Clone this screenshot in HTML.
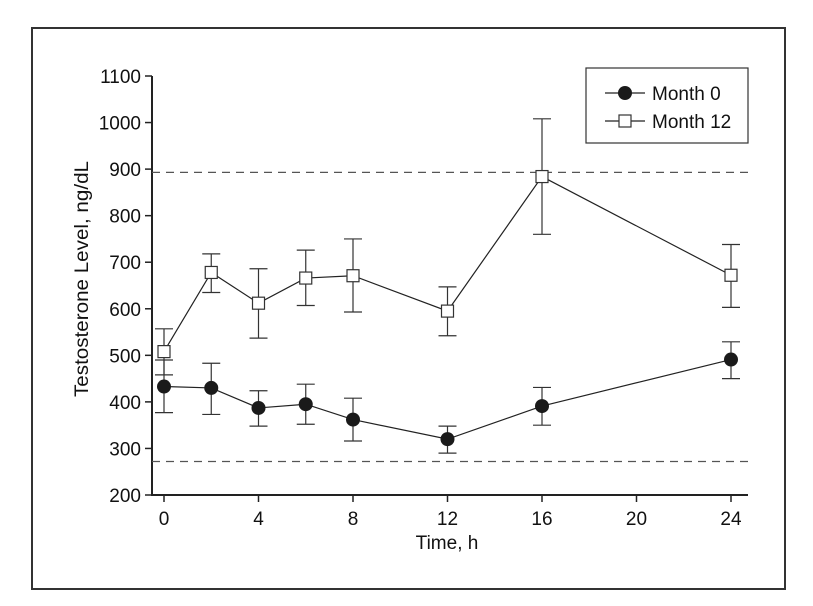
<!DOCTYPE html>
<html><head><meta charset="utf-8"><style>
body{margin:0;background:#fff;font-family:"Liberation Sans",sans-serif;}
svg{display:block}
text{font-family:"Liberation Sans",sans-serif;fill:#111}
</style></head><body>
<svg id="chart" width="813" height="606">
<rect x="32" y="28" width="753" height="561" fill="none" stroke="#333" stroke-width="2"/>
</svg>
<script>
const hours=[0,2,4,6,8,12,16,24];
const month0=[433,430,387,395,362,320,391,491];
const month0Lo=[377,373,348,352,316,290,350,450];
const month0Hi=[490,483,424,438,408,348,431,529];
const month12=[508,678,612,666,671,595,884,672];
const month12Lo=[458,635,537,607,593,542,760,603];
const month12Hi=[557,718,686,726,750,647,1008,738];
const yTicks=[200,300,400,500,600,700,800,900,1000,1100];
const xTicks=[0,4,8,12,16,20,24];
const refLines=[893,272];

const svg=document.getElementById('chart');
const NS='http://www.w3.org/2000/svg';
const X=v=>164+v*(731-164)/24;
const Y=v=>495-(v-200)*(495-76)/900;
function mk(t,a,p){const e=document.createElementNS(NS,t);for(const k in a)e.setAttribute(k,a[k]);(p||svg).appendChild(e);return e;}

let g=mk('g',{});


mk('line',{x1:152,y1:Y(1100),x2:152,y2:496,stroke:'#222','stroke-width':2},g);
yTicks.forEach(v=>{
 mk('line',{x1:145,y1:Y(v),x2:152,y2:Y(v),stroke:'#222','stroke-width':1.5},g);
 const t=mk('text',{x:141,y:Y(v)+7,'text-anchor':'end','font-size':19},g);t.textContent=v;
 
 
});
let yt=mk('text',{x:0,y:0,transform:'translate(88,279) rotate(-90)','text-anchor':'middle','font-size':19,textLength:236,lengthAdjust:'spacingAndGlyphs'});
yt.textContent='Testosterone Level, ng/dL';



g=mk('g',{});


mk('line',{x1:151,y1:495,x2:748,y2:495,stroke:'#222','stroke-width':2},g);
xTicks.forEach(v=>{
 mk('line',{x1:X(v),y1:495,x2:X(v),y2:502,stroke:'#222','stroke-width':1.5},g);
 const t=mk('text',{x:X(v),y:525,'text-anchor':'middle','font-size':19},g);t.textContent=v;
 
 
});
let xt=mk('text',{x:447,y:549,'text-anchor':'middle','font-size':19});
xt.textContent='Time, h';



refLines.forEach(v=>{
 const l=mk('line',{x1:152,y1:Y(v),x2:748,y2:Y(v),stroke:'#555','stroke-width':1.2,'stroke-dasharray':'8,6'});
 
 
});

function series(vals,lo,hi,name,filled){
 const sg=mk('g',{});
 
 
 mk('polyline',{points:hours.map((h,i)=>X(h)+','+Y(vals[i])).join(' '),fill:'none',stroke:'#222','stroke-width':1.2},sg);
 hours.forEach((h,i)=>{
  const x=X(h);
  mk('line',{x1:x,y1:Y(lo[i]),x2:x,y2:Y(hi[i]),stroke:'#333','stroke-width':1.2},sg);
  mk('line',{x1:x-9,y1:Y(lo[i]),x2:x+9,y2:Y(lo[i]),stroke:'#333','stroke-width':1.2},sg);
  mk('line',{x1:x-9,y1:Y(hi[i]),x2:x+9,y2:Y(hi[i]),stroke:'#333','stroke-width':1.2},sg);
  let m;
  if(filled) m=mk('circle',{cx:x,cy:Y(vals[i]),r:7,fill:'#1a1a1a'},sg);
  else m=mk('rect',{x:x-6,y:Y(vals[i])-6,width:12,height:12,fill:'#fff',stroke:'#333','stroke-width':1.2},sg);
  
  
 });
}
series(month12,month12Lo,month12Hi,'month-12-series',false);
series(month0,month0Lo,month0Hi,'month-0-series',true);

const lg=mk('g',{});


mk('rect',{x:586,y:68,width:162,height:75,fill:'#fff',stroke:'#333','stroke-width':1.2},lg);
mk('line',{x1:605,y1:93,x2:645,y2:93,stroke:'#222','stroke-width':1.2},lg);
mk('circle',{cx:625,cy:93,r:7,fill:'#1a1a1a'},lg);
let t1=mk('text',{x:652,y:100,'font-size':19},lg);t1.textContent='Month 0';


mk('line',{x1:605,y1:121,x2:645,y2:121,stroke:'#222','stroke-width':1.2},lg);
mk('rect',{x:619,y:115,width:12,height:12,fill:'#fff',stroke:'#333','stroke-width':1.2},lg);
let t2=mk('text',{x:652,y:128,'font-size':19},lg);t2.textContent='Month 12';


</script>
</body></html>
